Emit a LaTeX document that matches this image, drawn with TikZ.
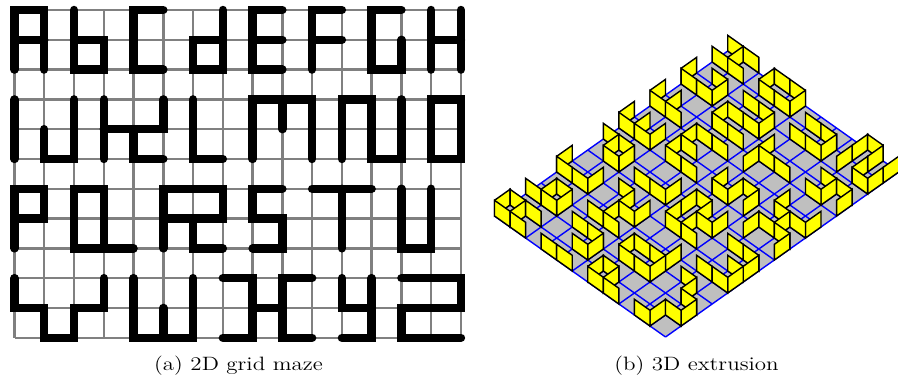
\documentclass[tikz,border=0pt]{standalone}
\usepackage{tikz}
\usepackage{xcolor}

\definecolor{wallyellow}{rgb}{1,1,0}
\definecolor{floorblue}{rgb}{0,0,1}
\definecolor{floorgray}{rgb}{0.75,0.75,0.75}

\tikzset{
  gridline/.style={gray, line width=1.4pt},
  mazeline/.style={black, line width=4.8pt, line cap=round, line join=miter},
  floorline/.style={floorblue, line width=0.8pt},
  wallface/.style={fill=wallyellow, draw=black, line width=0.8pt},
  caption/.style={inner sep=0pt, font=\fontsize{11}{13}\selectfont, transform shape, xscale=1.19}
}

\def\hwalls{0/0,0/1,2/1,2/2,4/0,4/2,6/1,6/2,8/0,8/1,8/2,10/0,10/1,12/0,12/2,14/1,
  1/5,3/4,4/4,4/5,6/5,8/3,9/3,11/3,12/5,14/3,14/5,
  0/6,0/7,2/6,2/8,3/8,5/6,6/6,5/7,6/7,6/8,8/6,8/7,8/8,10/6,11/6,13/8,
  0/10,1/11,2/10,4/11,5/11,7/9,7/11,8/10,9/9,9/11,11/10,11/11,13/9,14/9,13/10,14/10,13/11,14/11}
\def\vwalls{0/0,0/1,1/0,1/1,2/0,2/1,3/1,4/0,4/1,7/0,7/1,6/1,8/0,8/1,10/0,10/1,12/0,12/1,13/1,14/0,14/1,15/0,15/1,
  0/3,0/4,1/4,2/3,2/4,3/3,3/4,5/3,4/4,6/3,6/4,8/3,8/4,10/3,10/4,9/3,11/3,11/4,12/3,12/4,13/3,13/4,14/3,14/4,15/3,15/4,
  0/6,0/7,1/6,2/6,2/7,3/6,3/7,5/6,5/7,7/6,6/7,8/6,9/7,11/6,11/7,13/6,13/7,14/6,14/7,
  0/9,1/10,2/10,3/9,4/9,4/10,6/9,6/10,5/10,8/9,8/10,9/9,9/10,11/9,12/9,12/10,15/9,13/10}

\begin{document}
\begin{tikzpicture}[x=0.02cm, y=-0.02cm]
  \useasboundingbox (0,0) rectangle (898,382);

  \begin{scope}[shift={(14.5,10)}, x=0.5954cm, y=-0.596cm]
    \foreach \i in {0,1,...,15} {
        \draw[gridline] (\i,0) -- (\i,11);
    }
    \foreach \j in {0,1,...,11} {
        \draw[gridline] (0,\j) -- (15,\j);
    }

    \draw[mazeline] (0,2) -- (0,0) -- (1,0) -- (1,2);
    \draw[mazeline] (0,1) -- (1,1);
    \draw[mazeline] (2,0) -- (2,2) -- (3,2) -- (3,1) -- (2,1);
    \draw[mazeline] (5,0) -- (4,0) -- (4,2) -- (5,2);
    \draw[mazeline] (7,0) -- (7,2) -- (6,2) -- (6,1) -- (7,1);
    \draw[mazeline] (9,0) -- (8,0) -- (8,2) -- (9,2);
    \draw[mazeline] (8,1) -- (9,1);
    \draw[mazeline] (11,0) -- (10,0) -- (10,2);
    \draw[mazeline] (10,1) -- (11,1);
    \draw[mazeline] (13,0) -- (12,0) -- (12,2) -- (13,2) -- (13,1);
    \draw[mazeline] (14,0) -- (14,2);
    \draw[mazeline] (15,0) -- (15,2);
    \draw[mazeline] (14,1) -- (15,1);

    \draw[mazeline] (0,3) -- (0,5);
    \draw[mazeline] (1,4) -- (1,5) -- (2,5) -- (2,3);
    \draw[mazeline] (3,3) -- (3,5);
    \draw[mazeline] (3,4) -- (5,4) -- (5,3);
    \draw[mazeline] (4,4) -- (4,5) -- (5,5);
    \draw[mazeline] (6,3) -- (6,5) -- (7,5);
    \draw[mazeline] (8,5) -- (8,3) -- (10,3) -- (10,5);
    \draw[mazeline] (9,3) -- (9,4);
    \draw[mazeline] (11,5) -- (11,3) -- (12,3) -- (12,5) -- (13,5) -- (13,3);
    \draw[mazeline] (14,3) -- (15,3) -- (15,5) -- (14,5) -- cycle;

    \draw[mazeline] (0,8) -- (0,6) -- (1,6) -- (1,7) -- (0,7);
    \draw[mazeline] (4,8) -- (2,8) -- (2,6) -- (3,6) -- (3,8);
    \draw[mazeline] (5,8) -- (5,6) -- (7,6) -- (7,7) -- (5,7);
    \draw[mazeline] (6,7) -- (6,8) -- (7,8);
    \draw[mazeline] (9,6) -- (8,6) -- (8,7) -- (9,7) -- (9,8) -- (8,8);
    \draw[mazeline] (10,6) -- (12,6);
    \draw[mazeline] (11,6) -- (11,8);
    \draw[mazeline] (13,6) -- (13,8) -- (14,8) -- (14,6);

    \draw[mazeline] (0,9) -- (0,10) -- (1,10) -- (1,11) -- (2,11) -- (2,10) -- (3,10) -- (3,9);
    \draw[mazeline] (4,9) -- (4,11) -- (6,11) -- (6,9);
    \draw[mazeline] (5,10) -- (5,11);
    \draw[mazeline] (7,9) -- (8,9) -- (8,11) -- (7,11);
    \draw[mazeline] (8,10) -- (9,10);
    \draw[mazeline] (10,9) -- (9,9) -- (9,11) -- (10,11);
    \draw[mazeline] (11,9) -- (11,10) -- (12,10);
    \draw[mazeline] (12,9) -- (12,11) -- (11,11);
    \draw[mazeline] (13,9) -- (15,9) -- (15,10) -- (13,10) -- (13,11) -- (15,11);
  \end{scope}

  \begin{scope}[shift={(494.5,216)}, x={(0.311cm,0.22cm)}, y={(0.311cm,-0.22cm)}, z={(0cm,0.314cm)}]
    \coordinate (F0) at (0,0,0);
    \coordinate (F1) at (15,0,0);
    \coordinate (F2) at (15,11,0);
    \coordinate (F3) at (0,11,0);

    \fill[floorgray] (F0) -- (F1) -- (F2) -- (F3) -- cycle;

    \foreach \i in {0,1,...,15} {
        \draw[floorline] (\i,0,0) -- (\i,11,0);
    }
    \foreach \j in {0,1,...,11} {
        \draw[floorline] (0,\j,0) -- (15,\j,0);
    }

    \foreach \b in {-15,-14,...,12} {
        \foreach \i/\j in \hwalls {
            \ifnum\numexpr\j-\i\relax=\b
              \draw[wallface] (\i,\j,0) -- (\i+1,\j,0) -- (\i+1,\j,1) -- (\i,\j,1) -- cycle;
            \fi
        }
        \foreach \i/\j in \vwalls {
            \ifnum\numexpr\j-\i+1\relax=\b
              \draw[wallface] (\i,\j,0) -- (\i,\j+1,0) -- (\i,\j+1,1) -- (\i,\j,1) -- cycle;
            \fi
        }
    }
  \end{scope}

  \node[caption] (capA) at (238.5,366) {(a) 2D grid maze};
  \node[caption] (capB) at (696.5,366) {(b) 3D extrusion};
\end{tikzpicture}
\end{document}
